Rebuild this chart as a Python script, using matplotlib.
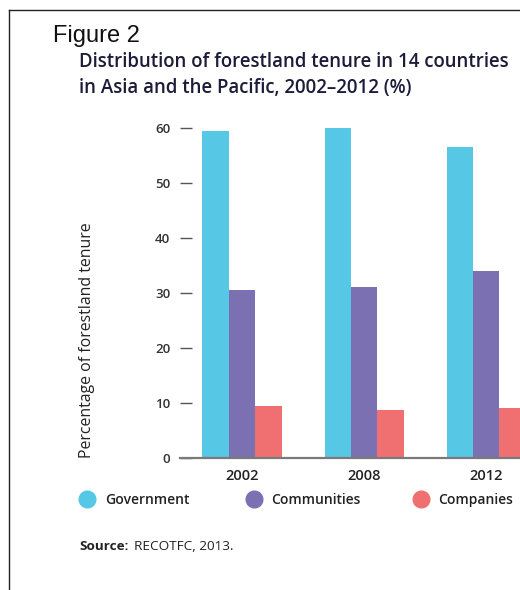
import matplotlib.pyplot as plt
from matplotlib.lines import Line2D
import numpy as np

years = ["2002", "2008", "2012"]
series = ["Government", "Communities", "Companies"]
government = [59.5, 60.0, 56.5]
communities = [30.5, 31.1, 34.0]
companies = [9.5, 8.6, 9.1]
colors = ["#56C7E4", "#7B70B2", "#F07072"]
y_ticks = [0, 10, 20, 30, 40, 50, 60]

W, H = 520, 590
FONT = "Open Sans"
fig = plt.figure(figsize=(W / 100, H / 100), dpi=100)


def fx(px):
    return px / W


def fy(py):
    return 1 - py / H


# axes placed in pixel terms: left 180, right 520, y=0 at 457.7, y=62 at 117.3
ax = fig.add_axes([fx(180), fy(457.7), fx(520 - 180), (457.7 - 117.3) / H])
x = np.arange(len(years))
bw = 0.216
for i, (vals, c) in enumerate(zip([government, communities, companies], colors)):
    ax.bar(x + (i - 1) * bw, vals, width=bw, color=c, linewidth=0)

ax.set_xlim(-0.508, 2.276)
ax.set_ylim(0, 62)
for s in ["top", "right", "left"]:
    ax.spines[s].set_visible(False)
ax.spines["bottom"].set_color("#7a7a7a")
ax.spines["bottom"].set_linewidth(1.6)

ax.set_yticks(y_ticks)
ax.set_yticklabels([str(v) for v in y_ticks], fontfamily=FONT, fontweight="semibold",
                   fontsize=9.5, color="#333333")
ax.tick_params(axis="y", direction="in", length=8.6, width=1.0, color="#555555", pad=7)
ax.set_xticks(x)
ax.set_xticklabels(years, fontfamily=FONT, fontweight="semibold", fontsize=10.5, color="#222222")
ax.tick_params(axis="x", length=0, pad=8)

fig.text(fx(87), fy(458), "Percentage of forestland tenure", rotation=90,
         ha="center", va="bottom", fontfamily=FONT, fontsize=11.4, color="#222222")

fig.text(fx(53), fy(42), "Figure 2", ha="left", va="baseline",
         fontfamily="Liberation Sans", fontsize=17, color="#111111")
for py, line in [(62, "Distribution of forestland tenure in 14 countries"),
                 (88, "in Asia and the Pacific, 2002\u20132012 (%)")]:
    fig.text(fx(79), fy(py), line, ha="left", va="center", fontfamily=FONT,
             fontweight="semibold", fontsize=13.4, color="#1c1c3a")

# legend
for px_c, px_t, name, c in zip([87, 254, 421], [105, 271, 438], series, colors):
    fig.add_artist(Line2D([fx(px_c)], [fy(499)], marker="o", markersize=12,
                          color=c, linestyle="none", transform=fig.transFigure))
    fig.text(fx(px_t), fy(500), name, ha="left", va="center", fontfamily=FONT,
             fontweight="semibold", fontsize=10, color="#222222")

fig.text(fx(79), fy(547), "Source:", ha="left", va="center", fontfamily=FONT,
         fontweight="bold", fontsize=9.7, color="#222222")
fig.text(fx(134), fy(547), "RECOTFC, 2013.", ha="left", va="center", fontfamily=FONT,
         fontsize=9.7, color="#222222")

# page frame
fig.add_artist(Line2D([fx(9), fx(9)], [fy(10), 0], color="#222222", linewidth=1.0,
                      transform=fig.transFigure))
fig.add_artist(Line2D([fx(9), 1], [fy(10), fy(10)], color="#222222", linewidth=1.0,
                      transform=fig.transFigure))

fig.savefig("out.png", dpi=100)
